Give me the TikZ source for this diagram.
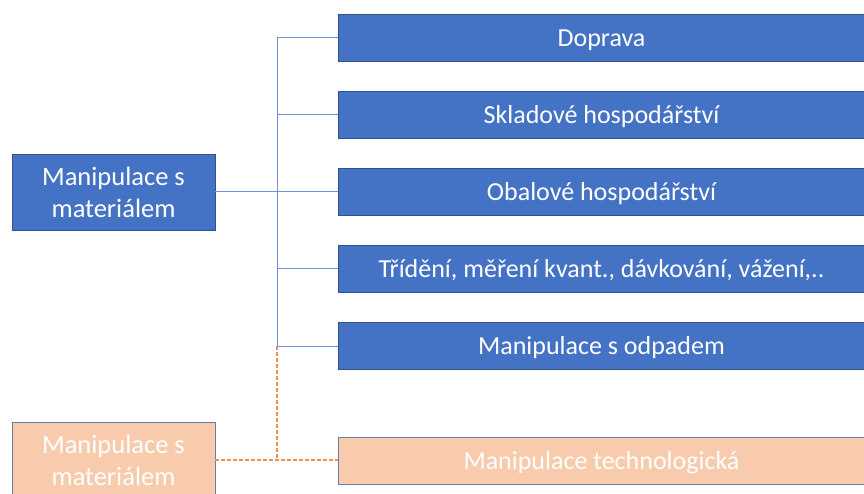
\documentclass[tikz,border=0pt]{standalone}
\usepackage{fontspec}
\setmainfont{Carlito}
\definecolor{boxblue}{HTML}{4472C4}
\definecolor{boxblueline}{HTML}{2F528F}
\definecolor{peach}{HTML}{F8CBAD}
\definecolor{peachline}{HTML}{6A7BA6}
\definecolor{linkblue}{HTML}{6E93D6}
\definecolor{linkorange}{HTML}{F0904E}
\tikzset{
  bluebox/.style={draw=boxblueline, line width=0.8pt, fill=boxblue, text=white,
    inner sep=0pt, outer sep=0pt, align=center},
  peachbox/.style={draw=peachline, line width=0.8pt, fill=peach, text=white,
    inner sep=0pt, outer sep=0pt, align=center},
  leftbox/.style={minimum width=203pt, minimum height=76pt,
    font=\fontsize{26.5}{32}\selectfont},
  rightbox/.style={minimum width=527pt, minimum height=47pt,
    text height=19.5pt, text depth=2pt,
    font=\fontsize{26}{31}\selectfont},
  conn/.style={draw=linkblue, line width=1pt},
  dconn/.style={draw=linkorange, line width=1.5pt, dash pattern=on 4pt off 2pt},
}
\begin{document}
\begin{tikzpicture}[x=1pt,y=-1pt]
\useasboundingbox (0,0) rectangle (864,493);

% source boxes
\node[bluebox, leftbox] (src) at (113.5,192) {Manipulace s\\materiálem};
\node[peachbox, leftbox] (src2) at (113.5,460) {Manipulace s\\materiálem};

% target boxes
\node[bluebox, rightbox] (dop) at (601.5,37.5) {Doprava};
\node[bluebox, rightbox] (skl) at (601.5,114.5) {Skladové hospodářství};
\node[bluebox, rightbox] (obal) at (601.5,191.5) {Obalové hospodářství};
\node[bluebox, rightbox] (trid) at (601.5,268.5) {Třídění, měření kvant., dávkování, vážení,..};
\node[bluebox, rightbox] (odp) at (601.5,346) {Manipulace s odpadem};
\node[peachbox, rightbox] (tech) at (601.5,460.5) {Manipulace technologická};

% trunk junctions
\coordinate (t1) at (277,37.5);
\coordinate (t2) at (277,114.5);
\coordinate (t3) at (277,191.5);
\coordinate (t4) at (277,268.5);
\coordinate (t5) at (277,346);
\coordinate (t6) at (277,460);

% dashed link for the technological branch
\draw[dconn] (t5) -- (t6);
\draw[dconn] (src2.east |- t6) -- (tech.west |- t6);

% solid tree
\draw[conn] (t1) -- (t5);
\draw[conn] (src.east |- t3) -- (t3);
\draw[conn] (t1) -- (dop.west);
\draw[conn] (t2) -- (skl.west);
\draw[conn] (t3) -- (obal.west);
\draw[conn] (t4) -- (trid.west);
\draw[conn] (t5) -- (odp.west);
\end{tikzpicture}
\end{document}
